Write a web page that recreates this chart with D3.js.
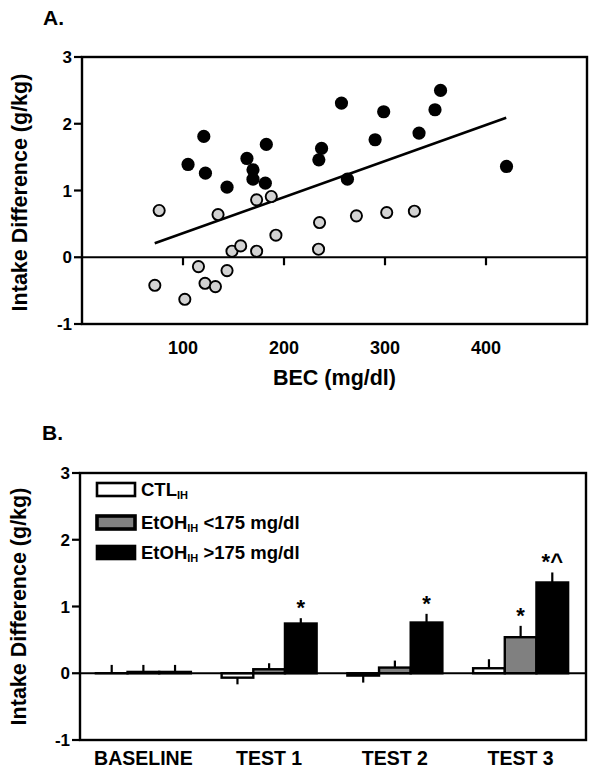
<!DOCTYPE html>
<html><head><meta charset="utf-8">
<script src="https://cdn.jsdelivr.net/npm/d3@7"></script>
<style>
html,body{margin:0;padding:0;background:#fff;}
text{font-family:"Liberation Sans",Arial,sans-serif;font-weight:bold;fill:#000;}
</style></head>
<body>
<svg id="chart" width="596" height="773"></svg>
<script>
// ---------- Panel A data ----------
const highBEC_x = [105,120.6,122.2,143.6,163.3,169.3,169.3,182.5,181.5,256.9,298.7,355,349.5,333.7,290.2,237.2,234.5,262.8,420.3];
const highBEC_y = [1.39,1.81,1.26,1.05,1.48,1.31,1.17,1.69,1.11,2.31,2.18,2.50,2.21,1.86,1.76,1.63,1.46,1.17,1.36];
const lowBEC_x = [76.4,72.1,101.8,115.3,121.8,132.1,143.6,134.7,148.5,157.1,172.9,172.9,187.4,192.0,235.2,234.2,271.7,301.7,329.1];
const lowBEC_y = [0.70,-0.42,-0.63,-0.14,-0.39,-0.44,-0.20,0.64,0.09,0.17,0.09,0.86,0.91,0.33,0.52,0.12,0.62,0.67,0.69];
const fitX = [72, 420];
const fitY = [0.21, 2.09];
const aXTicks = [100,200,300,400];
const yTicks = [3,2,1,0,-1];

// ---------- Panel B data ----------
const groups = ["BASELINE","TEST 1","TEST 2","TEST 3"];
const seriesNames = ["CTL","EtOH <175 mg/dl","EtOH >175 mg/dl"];
const ctlMean  = [0, -0.066, -0.035, 0.075];
const ctlSem   = [0.125, 0.10, 0.105, 0.135];
const lowMean  = [0.02, 0.06, 0.085, 0.54];
const lowSem   = [0.105, 0.09, 0.105, 0.17];
const highMean = [0.02, 0.745, 0.76, 1.36];
const highSem  = [0.105, 0.08, 0.13, 0.15];
const lowSig   = ["", "", "", "*"];
const highSig  = ["", "*", "*", "*^"];

const svg = d3.select("#chart");
const FS_TITLE = 21.5;

// ================= Panel A =================
const ax = d3.scaleLinear().domain([0,500]).range([82,587]);
const ay = d3.scaleLinear().domain([-1,3]).range([324,57]);
const gA = svg.append("g");

gA.append("text").attr("x",43).attr("y",25).style("font-size","21px").text("A.");

gA.append("rect").attr("x",ax(0)).attr("y",ay(3)).attr("width",ax(500)-ax(0)).attr("height",ay(-1)-ay(3))
  .attr("fill","none").attr("stroke","#000").attr("stroke-width",2.4);
gA.append("line").attr("x1",ax(0)).attr("x2",ax(500)).attr("y1",ay(0)).attr("y2",ay(0))
  .attr("stroke","#000").attr("stroke-width",2.2);
gA.selectAll(".xt").data(aXTicks).enter().append("line")
  .attr("x1",d=>ax(d)).attr("x2",d=>ax(d)).attr("y1",ay(0)).attr("y2",ay(0)+8)
  .attr("stroke","#000").attr("stroke-width",2.2);
gA.selectAll(".xl").data(aXTicks).enter().append("text")
  .attr("x",d=>ax(d)).attr("y",354).attr("text-anchor","middle").style("font-size","18px").text(d=>d);
gA.selectAll(".yt").data(yTicks).enter().append("line")
  .attr("x1",ax(0)-8).attr("x2",ax(0)).attr("y1",d=>ay(d)).attr("y2",d=>ay(d))
  .attr("stroke","#000").attr("stroke-width",2.2);
gA.selectAll(".yl").data(yTicks).enter().append("text")
  .attr("x",72).attr("y",d=>ay(d)).attr("dy","0.36em").attr("text-anchor","end").style("font-size","17px").text(d=>d);
gA.append("text").attr("x",(ax(0)+ax(500))/2).attr("y",385).attr("text-anchor","middle")
  .style("font-size",FS_TITLE+"px").text("BEC (mg/dl)");
gA.append("text").attr("transform",`translate(27,${(ay(3)+ay(-1))/2+2}) rotate(-90)`).attr("text-anchor","middle")
  .style("font-size",FS_TITLE+"px").text("Intake Difference (g/kg)");

gA.append("line").attr("x1",ax(fitX[0])).attr("y1",ay(fitY[0])).attr("x2",ax(fitX[1])).attr("y2",ay(fitY[1]))
  .attr("stroke","#000").attr("stroke-width",2.6);

gA.selectAll(".lo").data(lowBEC_x.map((x,i)=>[x,lowBEC_y[i]])).enter().append("circle")
  .attr("cx",d=>ax(d[0])).attr("cy",d=>ay(d[1])).attr("r",5.6)
  .attr("fill","#d3d3d3").attr("stroke","#000").attr("stroke-width",1.9);
gA.selectAll(".hi").data(highBEC_x.map((x,i)=>[x,highBEC_y[i]])).enter().append("circle")
  .attr("cx",d=>ax(d[0])).attr("cy",d=>ay(d[1])).attr("r",6.6)
  .attr("fill","#000");

// ================= Panel B =================
const by = d3.scaleLinear().domain([-1,3]).range([740,473]);
const bx0 = d3.scaleBand().domain(groups).range([80.5,583.5]).paddingInner(0).paddingOuter(0);
const bx1 = d3.scaleBand().domain(seriesNames).range([-47.5,47.5]);
const gB = svg.append("g");
gB.append("text").attr("x",42).attr("y",440).style("font-size","21px").text("B.");

const BX0 = 80, BX1 = 586;
gB.append("rect").attr("x",BX0).attr("y",by(3)).attr("width",BX1-BX0).attr("height",by(-1)-by(3))
  .attr("fill","none").attr("stroke","#000").attr("stroke-width",2.4);
gB.selectAll(".yt").data(yTicks).enter().append("line")
  .attr("x1",BX0-8).attr("x2",BX0).attr("y1",d=>by(d)).attr("y2",d=>by(d))
  .attr("stroke","#000").attr("stroke-width",2.2);
gB.selectAll(".yl").data(yTicks).enter().append("text")
  .attr("x",70).attr("y",d=>by(d)).attr("dy","0.36em").attr("text-anchor","end").style("font-size","17px").text(d=>d);
gB.append("text").attr("transform",`translate(26,${(by(3)+by(-1))/2})rotate(-90)`).attr("text-anchor","middle")
  .style("font-size",FS_TITLE+"px").text("Intake Difference (g/kg)");
gB.selectAll(".xl").data(groups).enter().append("text")
  .attr("x",d=>bx0(d)+bx0.bandwidth()/2).attr("y",765).attr("text-anchor","middle")
  .style("font-size","19.5px").text(d=>d);

const series = [
  {name:seriesNames[0], mean:ctlMean, sem:ctlSem, fill:"#fff", sig:["","","",""]},
  {name:seriesNames[1], mean:lowMean, sem:lowSem, fill:"#808080", sig:lowSig},
  {name:seriesNames[2], mean:highMean, sem:highSem, fill:"#000", sig:highSig}
];
const bars = [];
series.forEach(s=>groups.forEach((g,i)=>bars.push({g, s:s.name, v:s.mean[i], e:s.sem[i], fill:s.fill, sig:s.sig[i]})));
const bw = bx1.bandwidth();
const cx = d => bx0(d.g)+bx0.bandwidth()/2 + bx1(d.s) + bw/2;

gB.selectAll(".err").data(bars).enter().append("line")
  .attr("x1",cx).attr("x2",cx)
  .attr("y1",d=>by(d.v)).attr("y2",d=>by(d.v + (d.v<0?-d.e:d.e)))
  .attr("stroke","#000").attr("stroke-width",2.2);
gB.selectAll(".bar").data(bars).enter().append("rect")
  .attr("x",d=>cx(d)-bw/2).attr("width",bw)
  .attr("y",d=>Math.min(by(0),by(d.v))).attr("height",d=>Math.max(0.01,Math.abs(by(d.v)-by(0))))
  .attr("fill",d=>d.fill).attr("stroke","#000").attr("stroke-width",2.4);
gB.append("line").attr("x1",BX0).attr("x2",BX1).attr("y1",by(0)).attr("y2",by(0))
  .attr("stroke","#000").attr("stroke-width",2.2);
gB.selectAll(".sig").data(bars.filter(d=>d.sig)).enter().append("text")
  .attr("x",cx).attr("y",d=>by(d.v+d.e)-3).attr("text-anchor","middle")
  .style("font-size","22px").text(d=>d.sig);

const legY = [482,515,545];
const legFill = ["#fff","#808080","#000"];
const legStroke = [2.6,3.6,2.6];
const legMain = ["CTL","EtOH","EtOH"];
const legRest = [""," <175 mg/dl"," >175 mg/dl"];
legY.forEach((y,i)=>{
  gB.append("rect").attr("x",97).attr("y",y+1).attr("width",38).attr("height",13)
    .attr("fill",legFill[i]).attr("stroke","#000").attr("stroke-width",legStroke[i]);
  const t = gB.append("text").attr("x",141).attr("y",y+14).style("font-size","18.5px");
  t.append("tspan").text(legMain[i]);
  t.append("tspan").attr("dy",3).style("font-size","11px").text("IH");
  if(legRest[i]) t.append("tspan").attr("dy",-3).text(legRest[i]);
});
</script>
</body></html>
